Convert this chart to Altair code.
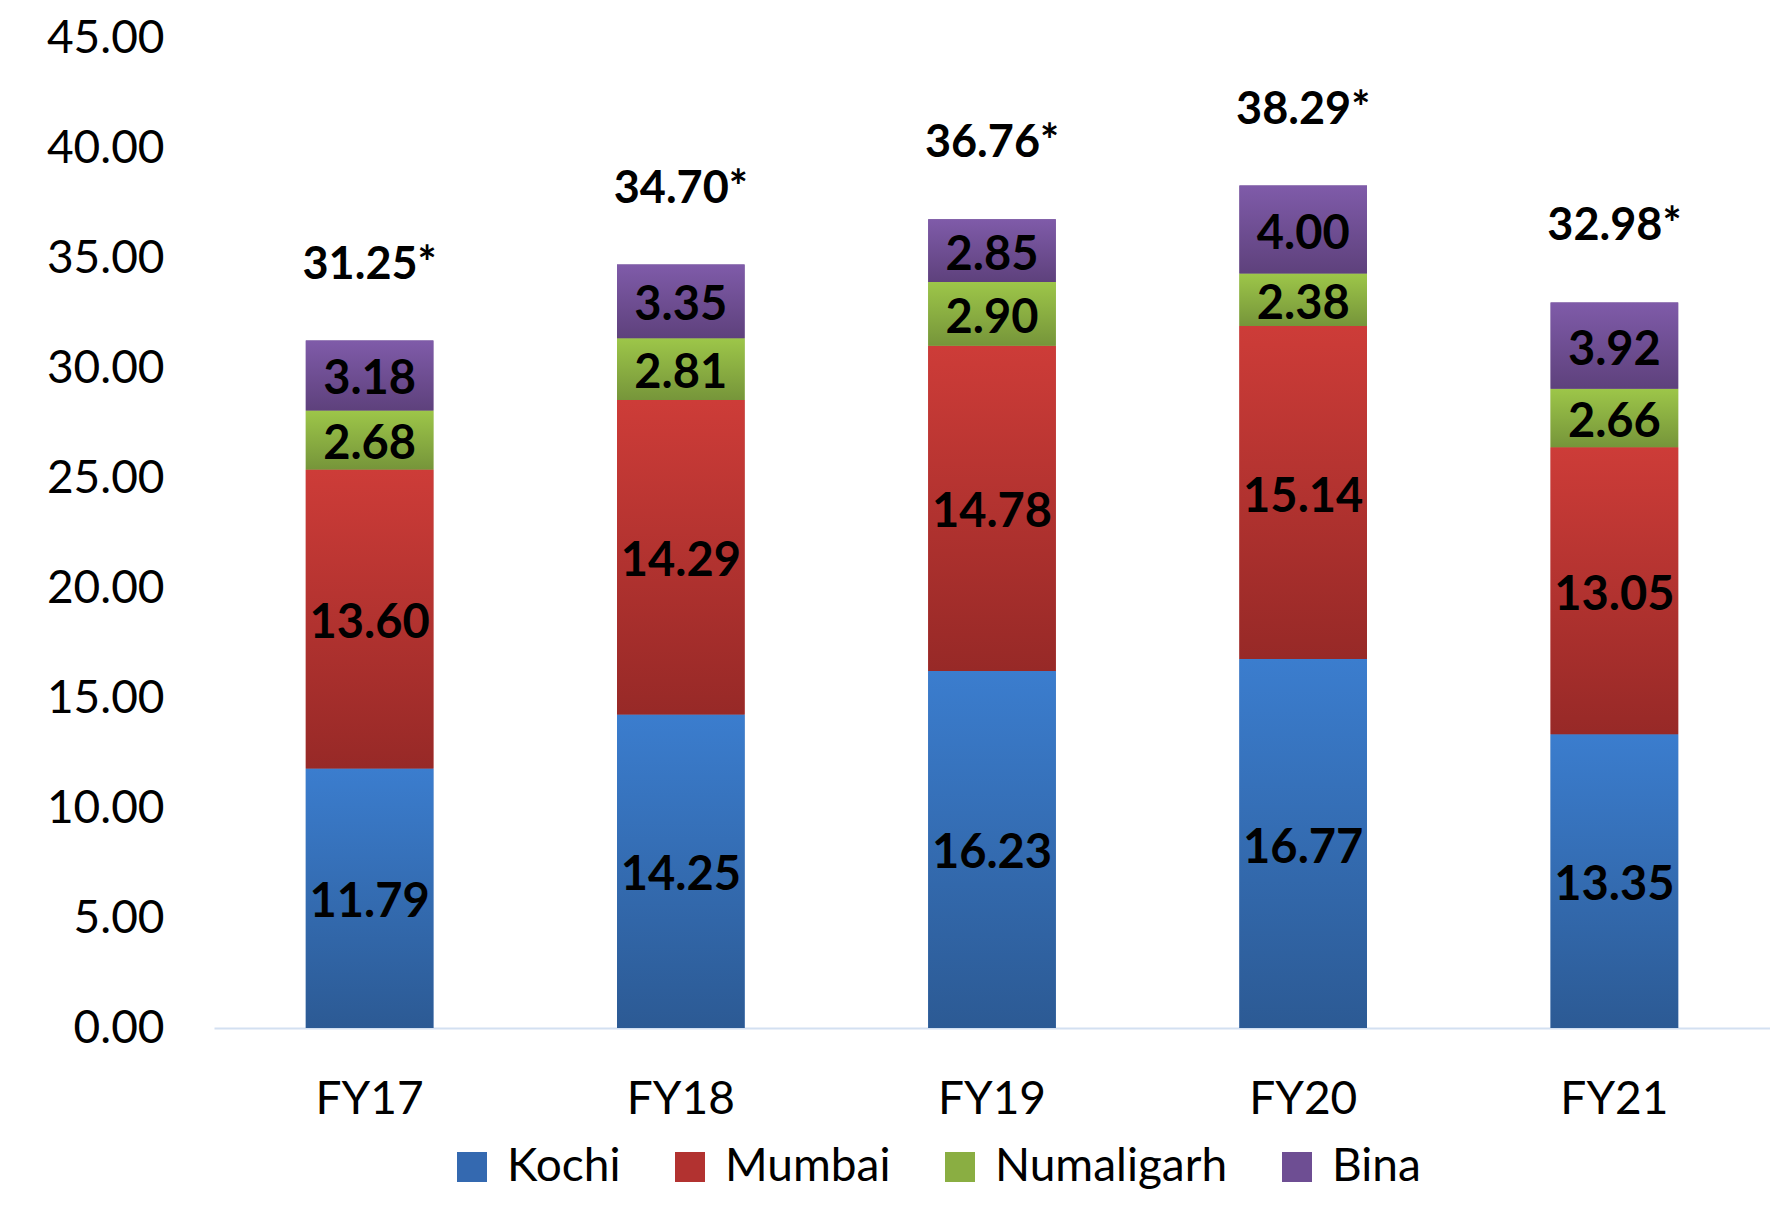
import altair as alt
import pandas as pd

years = ["FY17", "FY18", "FY19", "FY20", "FY21"]
series_names = ["Kochi", "Mumbai", "Numaligarh", "Bina"]
kochi = [11.79, 14.25, 16.23, 16.77, 13.35]
mumbai = [13.60, 14.29, 14.78, 15.14, 13.05]
numaligarh = [2.68, 2.81, 2.90, 2.38, 2.66]
bina = [3.18, 3.35, 2.85, 4.00, 3.92]
totals = [31.25, 34.70, 36.76, 38.29, 32.98]

top_colors = ["#3b7dce", "#cd3c38", "#9dc649", "#7f5ba9"]
bottom_colors = ["#2c5a94", "#972927", "#76953a", "#5e417c"]
mid_colors = ["#3469b0", "#b23230", "#8aae42", "#6e4e93"]

rows = []
for i, yr in enumerate(years):
    start = 0.0
    for name, vals in zip(series_names, [kochi, mumbai, numaligarh, bina]):
        v = vals[i]
        rows.append({"year": yr, "series": name, "value": v, "start": start,
                     "end": start + v, "mid": start + v / 2, "label": f"{v:.2f}"})
        start += v
df = pd.DataFrame(rows)
tot_df = pd.DataFrame({"year": years, "total": totals,
                       "label": [f"{t:.2f}*" for t in totals]})

FONT = "Lato"

xenc = alt.X("year:N", sort=years,
             scale=alt.Scale(paddingInner=0.59, paddingOuter=0.295),
             axis=alt.Axis(title=None, labelAngle=0, ticks=False, grid=False,
                           domainColor="#d3e0f1", domainWidth=2,
                           labelFont=FONT, labelFontSize=46, labelColor="black",
                           labelPadding=49))
yscale = alt.Scale(domain=[0, 45], nice=False)
yaxis = alt.Axis(title=None, values=list(range(0, 50, 5)), format=".2f",
                 domain=False, ticks=False, grid=False, labelFont=FONT,
                 labelFontSize=46, labelColor="black", labelPadding=50)

base = alt.Chart(df)

solid = base.mark_bar().encode(
    x=xenc,
    y=alt.Y("start:Q", scale=yscale, axis=yaxis),
    y2="end:Q",
    color=alt.Color("series:N",
                    scale=alt.Scale(domain=series_names, range=mid_colors),
                    legend=alt.Legend(title=None, orient="none", legendX=235,
                                      legendY=1106, direction="horizontal",
                                      symbolType="square", symbolSize=900,
                                      symbolStrokeWidth=0, labelFont=FONT,
                                      labelFontSize=46, labelColor="black",
                                      labelOffset=12, columnPadding=46,
                                      labelLimit=400)),
)

grad_layers = []
for name, top, bot in zip(series_names, top_colors, bottom_colors):
    g = base.transform_filter(alt.datum.series == name).mark_bar(
        fill=alt.LinearGradient(
            gradient="linear",
            stops=[alt.GradientStop(color=top, offset=0),
                   alt.GradientStop(color=bot, offset=1)],
            x1=0, x2=0, y1=0, y2=1)
    ).encode(
        x=xenc,
        y=alt.Y("start:Q", scale=yscale, axis=yaxis),
        y2="end:Q",
    )
    grad_layers.append(g)

seg_text = base.mark_text(font=FONT, fontWeight="bold", fontSize=47,
                          color="black", baseline="middle", align="center",
                          dy=5).encode(
    x=xenc,
    y=alt.Y("mid:Q", scale=yscale, axis=yaxis),
    text="label:N",
)

tot_text = alt.Chart(tot_df).mark_text(font=FONT, fontWeight="bold", fontSize=45,
                                       color="black", baseline="middle",
                                       align="center", dy=-76).encode(
    x=xenc,
    y=alt.Y("total:Q", scale=yscale, axis=yaxis),
    text="label:N",
)

chart = alt.layer(solid, *grad_layers, seg_text, tot_text).properties(
    width=1556, height=990,
    padding={"left": 206, "top": 30, "right": 0, "bottom": 169},
    autosize=alt.AutoSizeParams(type="none"),
).configure_view(stroke=None)

chart.save("out.html", embed_options={"renderer": "svg", "actions": False})
